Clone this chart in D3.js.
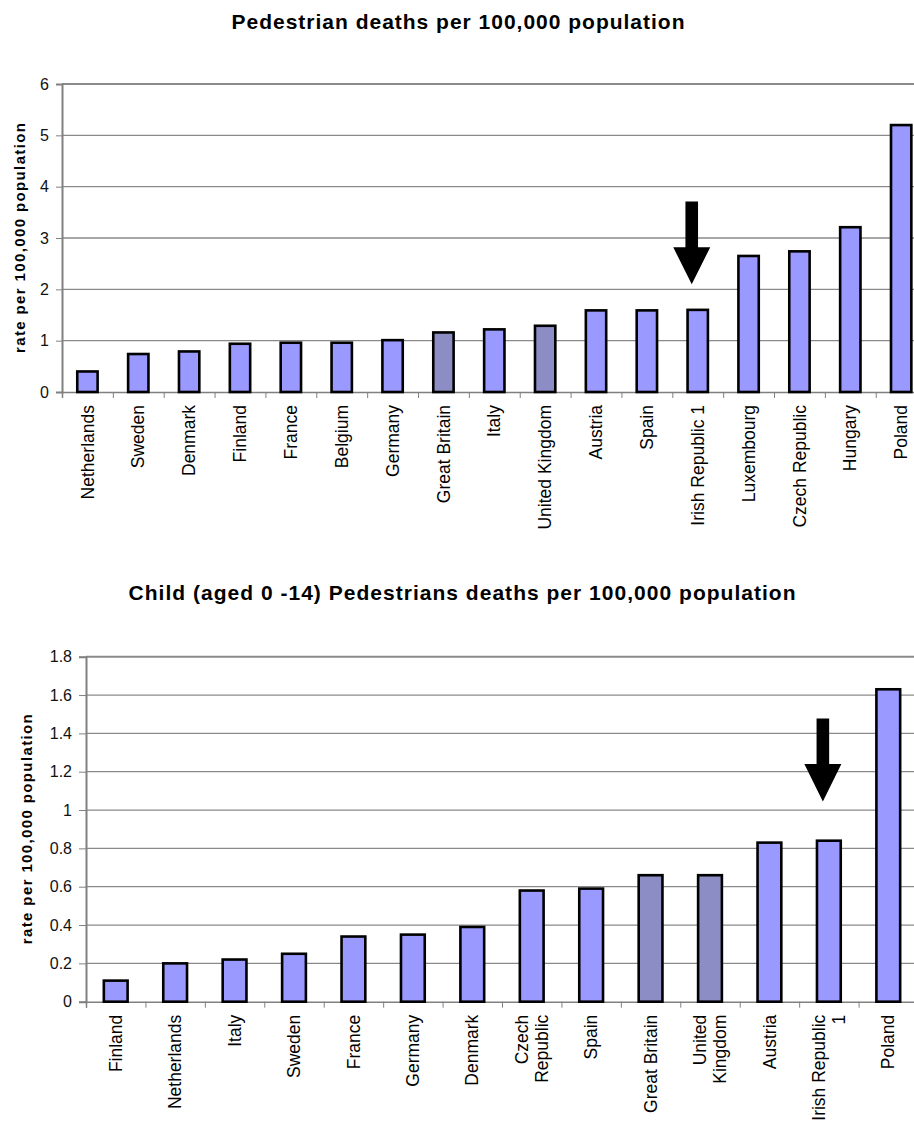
<!DOCTYPE html>
<html>
<head>
<meta charset="utf-8">
<script src="https://cdn.jsdelivr.net/npm/d3@7"></script>
<style>
  body { margin: 0; background: #fff; }
  svg { display: block; }
  text { font-family: "Liberation Sans", Arial, sans-serif; fill: #000; }
</style>
</head>
<body>
<div id="chart"></div>
<script>
var adultCountries = ["Netherlands", "Sweden", "Denmark", "Finland", "France", "Belgium", "Germany",
  "Great Britain", "Italy", "United Kingdom", "Austria", "Spain", "Irish Republic 1", "Luxembourg",
  "Czech Republic", "Hungary", "Poland"];
var adultRates = [0.40, 0.74, 0.79, 0.94, 0.96, 0.96, 1.01, 1.16, 1.22, 1.29, 1.59, 1.59, 1.60, 2.65, 2.74, 3.21, 5.20];
var adultTicks = [0, 1, 2, 3, 4, 5, 6];

var childCountries = ["Finland", "Netherlands", "Italy", "Sweden", "France", "Germany", "Denmark",
  "Czech Republic", "Spain", "Great Britain", "United Kingdom", "Austria", "Irish Republic 1", "Poland"];
var childTickLabels = ["Finland", "Netherlands", "Italy", "Sweden", "France", "Germany", "Denmark",
  "Czech\nRepublic", "Spain", "Great Britain", "United\nKingdom", "Austria", "Irish Republic\n1", "Poland"];
var childRates = [0.11, 0.20, 0.22, 0.25, 0.34, 0.35, 0.39, 0.58, 0.59, 0.66, 0.66, 0.83, 0.84, 1.63];
var childTicks = [0, 0.2, 0.4, 0.6, 0.8, 1, 1.2, 1.4, 1.6, 1.8];

var greyBars = ["Great Britain", "United Kingdom"];
var arrowCountry = "Irish Republic 1";
// shaft top, head base, tip (in rate units)
var adultArrow = [3.71, 2.82, 2.10];
var childArrow = [1.478, 1.24, 1.045];

var svg = d3.select('#chart').append('svg').attr('width', 914).attr('height', 1121);

function drawChart(o) {
  var g = svg.append('g');
  var x = d3.scaleBand().domain(o.countries).range([o.left, o.right]).paddingInner(0.6).paddingOuter(0.3);
  var y = d3.scaleLinear().domain([0, o.ticks[o.ticks.length - 1]]).range([o.bottom, o.top]);
  var xEdges = d3.scaleLinear().domain([0, o.countries.length]).range([o.left, o.right]);

  // grid lines
  g.selectAll('line.grid').data(o.ticks.slice(1)).enter().append('line')
    .attr('class', 'grid')
    .attr('x1', o.left).attr('x2', o.right)
    .attr('y1', function(d) { return y(d); }).attr('y2', function(d) { return y(d); })
    .style('stroke', '#8a8a8a')
    .style('stroke-width', function(d, i) { return i == o.ticks.length - 2 ? 2 : 1.3; });

  // y axis
  var yAxis = g.append('g').attr('transform', 'translate(' + o.left + ',0)')
    .call(d3.axisLeft(y).tickValues(o.ticks).tickSize(o.tickLen).tickPadding(7).tickFormat(d3.format('')));
  yAxis.select('.domain').style('stroke', '#808080').style('stroke-width', 2);
  yAxis.selectAll('.tick line').style('stroke', '#808080');
  yAxis.selectAll('.tick text').style('font-size', '16px').style('fill', '#111');

  // x axis with ticks between categories
  var xAxis = g.append('g').attr('transform', 'translate(0,' + o.bottom + ')')
    .call(d3.axisBottom(xEdges).tickValues(d3.range(0, o.countries.length + 1)).tickSize(6).tickFormat(''));
  xAxis.select('.domain').style('stroke', '#808080').style('stroke-width', 1.5);
  xAxis.selectAll('.tick line').style('stroke', '#808080');

  // bars
  g.selectAll('rect.bar').data(o.rates).enter().append('rect')
    .attr('class', 'bar')
    .attr('x', function(d, i) { return x(o.countries[i]); })
    .attr('width', x.bandwidth())
    .attr('y', function(d) { return y(d); })
    .attr('height', function(d) { return y(0) - y(d); })
    .style('fill', function(d, i) { return greyBars.indexOf(o.countries[i]) >= 0 ? '#8d8dc6' : '#9999ff'; })
    .style('stroke', '#000')
    .style('stroke-width', 2.6);

  // category labels
  var labels = g.selectAll('text.cat').data(o.labels).enter().append('text')
    .attr('class', 'cat')
    .attr('transform', function(d, i) {
      return 'translate(' + (x(o.countries[i]) + x.bandwidth() / 2) + ',' + (o.bottom + 13) + ') rotate(-90)';
    })
    .attr('text-anchor', 'end')
    .style('font-size', '17.5px');
  labels.each(function(d) {
    var lines = d.split('\n');
    var t = d3.select(this);
    lines.forEach(function(line, k) {
      t.append('tspan').attr('x', 0)
        .attr('y', (k - (lines.length - 1) / 2) * 20)
        .attr('dy', '0.35em')
        .text(line);
    });
  });

  // arrow
  var cx = x(arrowCountry) + x.bandwidth() / 2 - 6;
  var a = o.arrow;
  g.append('path')
    .attr('d', 'M' + (cx - 6.3) + ',' + y(a[0]) + 'L' + (cx + 6.3) + ',' + y(a[0]) +
      'L' + (cx + 6.3) + ',' + y(a[1]) + 'L' + (cx + 18.5) + ',' + y(a[1]) +
      'L' + cx + ',' + y(a[2]) + 'L' + (cx - 18.5) + ',' + y(a[1]) +
      'L' + (cx - 6.3) + ',' + y(a[1]) + 'Z')
    .style('fill', '#000');

  // title
  svg.append('text')
    .attr('x', o.titleX).attr('y', o.titleY)
    .attr('text-anchor', 'middle')
    .attr('textLength', o.titleLen).attr('lengthAdjust', 'spacing')
    .style('font-size', '21px').style('font-weight', 'bold')
    .text(o.title);

  // y label
  svg.append('text')
    .attr('transform', 'translate(' + o.ylabX + ',' + ((o.top + o.bottom) / 2) + ') rotate(-90)')
    .attr('text-anchor', 'middle')
    .attr('textLength', 230).attr('lengthAdjust', 'spacing')
    .style('font-size', '15px').style('font-weight', 'bold')
    .text('rate per 100,000 population');
}

drawChart({
  countries: adultCountries, labels: adultCountries, rates: adultRates, ticks: adultTicks, arrow: adultArrow,
  left: 62, right: 926.6, top: 84, bottom: 392, tickLen: 6,
  title: 'Pedestrian deaths per 100,000 population', titleX: 458, titleY: 29, titleLen: 453, ylabX: 25
});

drawChart({
  countries: childCountries, labels: childTickLabels, rates: childRates, ticks: childTicks, arrow: childArrow,
  left: 86, right: 918, top: 656.7, bottom: 1001.7, tickLen: 7,
  title: 'Child (aged 0 -14) Pedestrians deaths per 100,000 population', titleX: 462, titleY: 600, titleLen: 667, ylabX: 31.5
});
</script>
</body>
</html>
